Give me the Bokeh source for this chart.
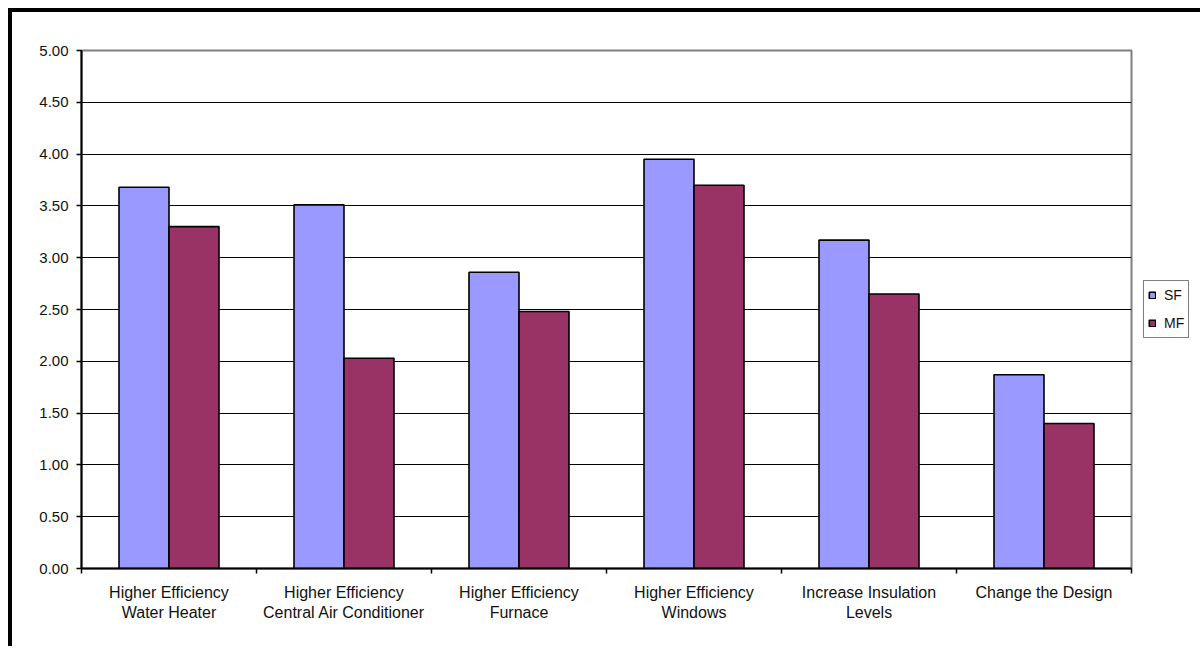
import numpy as np
from bokeh.plotting import figure
from bokeh.models import (ColumnDataSource, FixedTicker, Range1d, Legend, LegendItem)
from bokeh.transform import dodge
from bokeh.embed import file_html
from bokeh.resources import INLINE

categories = ["Higher Efficiency\nWater Heater",
              "Higher Efficiency\nCentral Air Conditioner",
              "Higher Efficiency\nFurnace",
              "Higher Efficiency\nWindows",
              "Increase Insulation\nLevels",
              "Change the Design"]
sf_values = [3.68, 3.51, 2.86, 3.95, 3.17, 1.87]
mf_values = [3.30, 2.03, 2.48, 3.70, 2.65, 1.40]
y_ticks = [0.0, 0.5, 1.0, 1.5, 2.0, 2.5, 3.0, 3.5, 4.0, 4.5, 5.0]

n = len(categories)
centers = list(np.arange(n) + 0.5)
src = ColumnDataSource(dict(x=centers, sf=sf_values, mf=mf_values))

FONT = "Liberation Sans"
SF_COLOR = "#9999FF"
MF_COLOR = "#993366"

p = figure(output_backend="svg", toolbar_location=None,
           frame_width=1050, frame_height=518,
           min_border_left=69, min_border_top=38,
           min_border_right=68, min_border_bottom=78,
           x_range=Range1d(0, n), y_range=Range1d(0, 5))
p.styles = {"margin-left": "8px", "margin-top": "8px",
            "border-left": "4px solid black", "border-top": "4px solid black"}

bw = 0.2857
r_sf = p.vbar(x=dodge("x", -bw / 2, range=p.x_range), top="sf", width=bw, source=src,
              fill_color=SF_COLOR, line_color="black", line_width=1.6)
r_mf = p.vbar(x=dodge("x", bw / 2, range=p.x_range), top="mf", width=bw, source=src,
              fill_color=MF_COLOR, line_color="black", line_width=1.6)

# frame outline (gray, visible at top/right)
p.outline_line_color = "#808080"
p.outline_line_width = 2

# grid
p.xgrid.visible = False
p.ygrid.ticker = FixedTicker(ticks=y_ticks[1:-1])
p.ygrid.grid_line_color = "black"
p.ygrid.grid_line_width = 1

# y axis
p.yaxis.ticker = FixedTicker(ticks=y_ticks)
p.yaxis.major_label_overrides = {t: f"{t:.2f}" for t in y_ticks}
p.yaxis.axis_line_color = "black"
p.yaxis.axis_line_width = 2
p.yaxis.major_tick_line_color = "black"
p.yaxis.major_tick_line_width = 1.5
p.yaxis.major_tick_in = 0
p.yaxis.major_tick_out = 5
p.yaxis.minor_tick_line_color = None
p.yaxis.major_label_standoff = 8
p.yaxis.major_label_text_font = FONT
p.yaxis.major_label_text_font_size = "15px"
p.yaxis.major_label_text_color = "#111111"

# x axis: labels at centers, tick marks between categories
p.xaxis.ticker = FixedTicker(ticks=centers, minor_ticks=list(range(n + 1)))
p.xaxis.major_label_overrides = {c: lab for c, lab in zip(centers, categories)}
p.xaxis.axis_line_color = "black"
p.xaxis.axis_line_width = 2
p.xaxis.major_tick_line_color = None
p.xaxis.major_tick_in = 0
p.xaxis.major_tick_out = 5
p.xaxis.minor_tick_line_color = "black"
p.xaxis.minor_tick_line_width = 1.5
p.xaxis.minor_tick_in = 0
p.xaxis.minor_tick_out = 5
p.xaxis.major_label_standoff = 10
p.xaxis.major_label_text_font = FONT
p.xaxis.major_label_text_font_size = "16px"
p.xaxis.major_label_text_color = "#111111"

legend = Legend(items=[LegendItem(label="SF", renderers=[r_sf]),
                       LegendItem(label="MF", renderers=[r_mf])],
                location=(12, 230))
legend.border_line_color = "black"
legend.border_line_width = 1
legend.background_fill_color = "white"
legend.background_fill_alpha = 1
legend.padding = 4
legend.margin = 0
legend.spacing = 8
legend.glyph_width = 8
legend.glyph_height = 8
legend.label_height = 20
legend.label_standoff = 8
legend.label_text_font = FONT
legend.label_text_font_size = "14px"
legend.label_text_color = "#111111"
p.add_layout(legend, "right")

open("out.html", "w").write(file_html(p, INLINE))
